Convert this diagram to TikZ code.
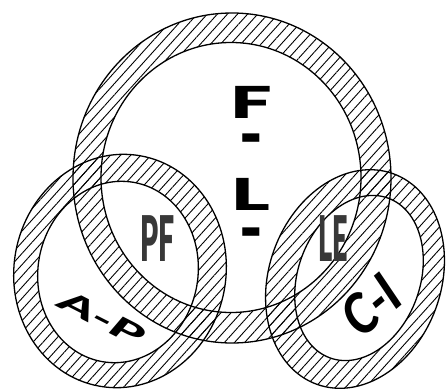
\documentclass[tikz,border=0pt]{standalone}
\usepackage{fontspec}
\setmainfont{Liberation Sans}
\newfontfamily\heavyfont{Lato Black}
\newfontfamily\heavyital{Lato Black Italic}
\newfontfamily\grayfont{Lato Black}
\usetikzlibrary{patterns.meta}
\tikzset{
  hatchband/.style={pattern={Lines[angle=48,distance=7.5pt,line width=0.9pt]}, even odd rule},
  rim/.style={draw=black, line width=1.3pt},
  bigletter/.style={font=\fontsize{42}{42}\selectfont\heavyfont, inner sep=0pt, text=black},
  graylabel/.style={font=\fontsize{30}{30}\selectfont\grayfont, inner sep=0pt, text=black!78},
  ringlabel/.style={inner sep=0pt, text=black},
}
\begin{document}
\begin{tikzpicture}[x=1pt,y=-1pt]
\useasboundingbox (0,0) rectangle (446,390);
% centres
\coordinate (FLo) at (232,178);
\coordinate (FLi) at (231,177.5);
\coordinate (APo) at (120,271);
\coordinate (APi) at (118,272);
\coordinate (CIo) at (355,279);
\coordinate (CIi) at (359,278);
% hatched bands
\fill[hatchband] (APo) circle[x radius=106pt, y radius=117pt, rotate=-10]
                 (APi) circle[x radius=80pt, y radius=91pt, rotate=-10];
\fill[hatchband] (CIo) circle[x radius=86pt, y radius=112pt, rotate=-20]
                 (CIi) circle[x radius=61pt, y radius=85pt, rotate=-20];
\fill[hatchband] (FLo) circle[x radius=159pt, y radius=165pt]
                 (FLi) circle[x radius=130pt, y radius=135pt];
% rims
\draw[rim] (APo) circle[x radius=106pt, y radius=117pt, rotate=-10];
\draw[rim] (APi) circle[x radius=80pt, y radius=91pt, rotate=-10];
\draw[rim] (CIo) circle[x radius=86pt, y radius=112pt, rotate=-20];
\draw[rim] (CIi) circle[x radius=61pt, y radius=85pt, rotate=-20];
\draw[rim] (FLo) circle[x radius=159pt, y radius=165pt];
\draw[rim] (FLi) circle[x radius=130pt, y radius=135pt];
% labels
\node[bigletter] (F) at (251,102) {\scalebox{1.75}[1.05]{F}};
\node[bigletter, anchor=base] (d1) at (251,158) {\scalebox{1.5}[1.6]{-}};
\node[bigletter] (L) at (251,194) {\scalebox{1.75}[1.05]{L}};
\node[bigletter, anchor=base] (d2) at (251,252) {\scalebox{1.5}[1.6]{-}};
\node[graylabel] (PF) at (158,239) {\scalebox{0.95}[2.1]{PF}};
\node[graylabel] (LE) at (333,239) {\scalebox{0.9}[2.1]{LE}};
\node[ringlabel, font=\fontsize{34}{34}\selectfont\heavyital, rotate=-27] (AP) at (102,318) {\scalebox{1.7}[0.85]{A-P}};
\node[ringlabel, font=\fontsize{50}{50}\selectfont\heavyital, rotate=40] (CI) at (371,305) {\scalebox{0.95}[1.1]{C-I}};
\end{tikzpicture}
\end{document}
